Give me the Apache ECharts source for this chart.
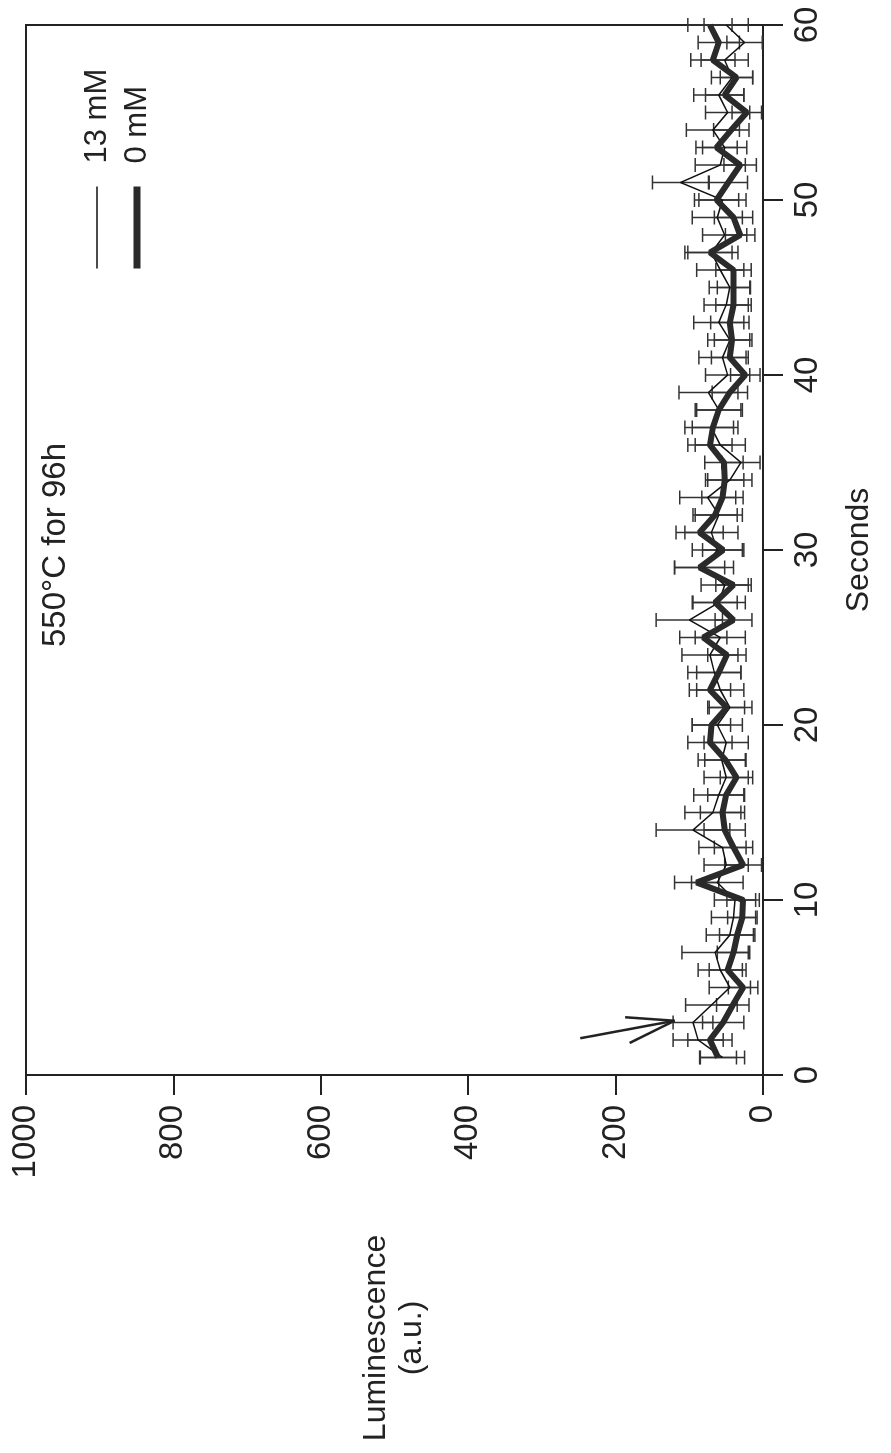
<!DOCTYPE html>
<html>
<head>
<meta charset="utf-8">
<script src="https://cdn.jsdelivr.net/npm/echarts@6/dist/echarts.min.js"></script>
<style>
  html, body { margin: 0; padding: 0; background: #fff; width: 891px; height: 1453px; overflow: hidden; }
  /* the plot is laid out landscape and turned a quarter turn counter-clockwise onto the page */
  #chart { position: absolute; left: 0; top: 0; width: 1453px; height: 891px;
           transform-origin: 0 0; transform: translateY(1453px) rotate(-90deg); }
</style>
</head>
<body>
<div id="chart"></div>
<script>
// time points (s)
const seconds = [1,2,3,4,5,6,7,8,9,10,11,12,13,14,15,16,17,18,19,20,
                 21,22,23,24,25,26,27,28,29,30,31,32,33,34,35,36,37,38,39,40,
                 41,42,43,44,45,46,47,48,49,50,51,52,53,54,55,56,57,58,59,60];

// 0 mM: mean luminescence and error
const lum0 = [61,72,54,41,27,48,40,35,28,27, 90,27,40,52,55,50,36,51,72,70,
              49,72,60,49,81,40,65,40,86,54, 86,65,55,52,53,72,68,60,45,24,
              45,42,45,40,40,40,72,31,40,63, 47,31,63,43,22,52,36,68,60,72];
const err0 = [25,30,28,22,20,25,22,24,20,22, 30,25,26,28,30,25,22,28,30,26,
              24,28,30,26,32,25,30,24,34,28, 32,30,28,26,26,30,28,30,24,20,
              25,24,26,24,22,24,30,20,26,30, 26,22,28,24,20,26,22,30,28,30];

// 13 mM: mean luminescence and error
const lum13 = [55,88,95,70,45,58,65,45,40,38, 62,50,55,95,68,60,50,56,50,62,
               45,58,66,72,58,100,60,52,80,62, 70,60,75,45,30,58,70,60,74,48,
               55,45,60,50,45,58,70,52,62,55, 112,58,52,68,48,60,42,52,25,50];
const err13 = [30,34,27,35,28,30,45,32,30,28, 35,30,32,50,38,34,30,32,30,34,
               30,32,36,38,34,45,36,32,40,34, 36,32,38,30,26,34,36,32,40,30,
               32,30,34,30,28,32,36,30,34,32, 38,34,30,36,30,34,28,32,24,30];

// axis ticks
const secondsTicks = [0, 10, 20, 30, 40, 50, 60];
const lumTicks = [0, 200, 400, 600, 800, 1000];

// arrow marking the injection point: [seconds, luminescence] pairs
const arrowTail = [2.1, 248];
const arrowTip = [3.1, 120];
const arrowBarbA = [3.3, 187];
const arrowBarbB = [1.83, 181];

const FONT = 'Liberation Sans, Arial, sans-serif';
const INK = '#222';
const THICK = '#2a2a2a';
const THIN = '#111';

function errorBars(name, values, errors, color) {
  return {
    type: 'custom',
    name: name,
    silent: true,
    z: 1,
    data: seconds.map((s, i) => [s, values[i] - errors[i], values[i] + errors[i]]),
    encode: { x: 0, y: [1, 2] },
    renderItem: function (params, api) {
      const lo = api.coord([api.value(0), api.value(1)]);
      const hi = api.coord([api.value(0), api.value(2)]);
      const w = 7;
      const style = { stroke: color, lineWidth: 1.5, fill: null };
      return {
        type: 'group',
        children: [
          { type: 'line', shape: { x1: lo[0], y1: lo[1], x2: hi[0], y2: hi[1] }, style: style },
          { type: 'line', shape: { x1: lo[0] - w, y1: lo[1], x2: lo[0] + w, y2: lo[1] }, style: style },
          { type: 'line', shape: { x1: hi[0] - w, y1: hi[1], x2: hi[0] + w, y2: hi[1] }, style: style }
        ]
      };
    }
  };
}

const chart = echarts.init(document.getElementById('chart'), null, { renderer: 'canvas' });

chart.setOption({
  animation: false,
  backgroundColor: '#fff',
  textStyle: { fontFamily: FONT, color: INK },
  title: {
    text: '550\u00B0C for 96h',
    left: 806,
    top: 39,
    padding: 0,
    textStyle: { fontFamily: FONT, fontSize: 33, fontWeight: 'normal', color: INK }
  },
  legend: {
    orient: 'vertical',
    left: 1181,
    top: 74,
    padding: 0,
    itemWidth: 82,
    itemHeight: 14,
    itemGap: -6,
    data: [
      { name: '13 mM', itemStyle: { opacity: 0 }, lineStyle: { color: THIN, width: 1.5, opacity: 1 } },
      { name: '0 mM', itemStyle: { opacity: 0 }, lineStyle: { color: THICK, width: 7, opacity: 1 } }
    ],
    textStyle: { fontFamily: FONT, fontSize: 31, color: INK, lineHeight: 32, padding: [0, 0, 14, 18] }
  },
  grid: {
    left: 378, right: 25, top: 26, bottom: 128,
    show: true, borderColor: INK, borderWidth: 2, backgroundColor: 'transparent'
  },
  xAxis: {
    type: 'value',
    min: secondsTicks[0],
    max: secondsTicks[secondsTicks.length - 1],
    interval: 10,
    name: 'Seconds',
    nameLocation: 'middle',
    nameGap: 80,
    nameTextStyle: { fontFamily: FONT, fontSize: 32, color: INK },
    axisLine: { onZero: false, lineStyle: { color: INK, width: 2 } },
    axisTick: { length: 20, lineStyle: { color: INK, width: 2 } },
    axisLabel: { fontFamily: FONT, fontSize: 33, color: INK, margin: 28 },
    splitLine: { show: false }
  },
  yAxis: {
    type: 'value',
    min: lumTicks[0],
    max: lumTicks[lumTicks.length - 1],
    interval: 200,
    name: 'Luminescence\n(a.u.)',
    nameLocation: 'middle',
    nameRotate: 0,
    nameGap: 263,
    nameTextStyle: { fontFamily: FONT, fontSize: 32, color: INK, align: 'center', verticalAlign: 'middle', lineHeight: 36 },
    axisLine: { show: true, lineStyle: { color: INK, width: 2 } },
    axisTick: { show: true, length: 20, lineStyle: { color: INK, width: 2 } },
    axisLabel: { fontFamily: FONT, fontSize: 33, color: INK, margin: 30, formatter: function (v) { return String(v); } },
    splitLine: { show: false }
  },
  series: [
    errorBars('13 mM error', lum13, err13, '#333'),
    errorBars('0 mM error', lum0, err0, '#333'),
    {
      name: '13 mM',
      type: 'line',
      z: 3,
      symbol: 'none',
      data: seconds.map((s, i) => [s, lum13[i]]),
      lineStyle: { color: THIN, width: 1.5 },
      itemStyle: { color: THIN },
      markLine: {
        silent: true,
        symbol: 'none',
        animation: false,
        label: { show: false },
        lineStyle: { color: INK, width: 2.5, type: 'solid' },
        data: [
          [{ coord: arrowTail }, { coord: arrowTip }],
          [{ coord: arrowBarbA }, { coord: arrowTip }],
          [{ coord: arrowBarbB }, { coord: arrowTip }]
        ]
      }
    },
    {
      name: '0 mM',
      type: 'line',
      z: 4,
      symbol: 'none',
      data: seconds.map((s, i) => [s, lum0[i]]),
      lineStyle: { color: THICK, width: 6 },
      itemStyle: { color: THICK }
    }
  ]
});
</script>
</body>
</html>
